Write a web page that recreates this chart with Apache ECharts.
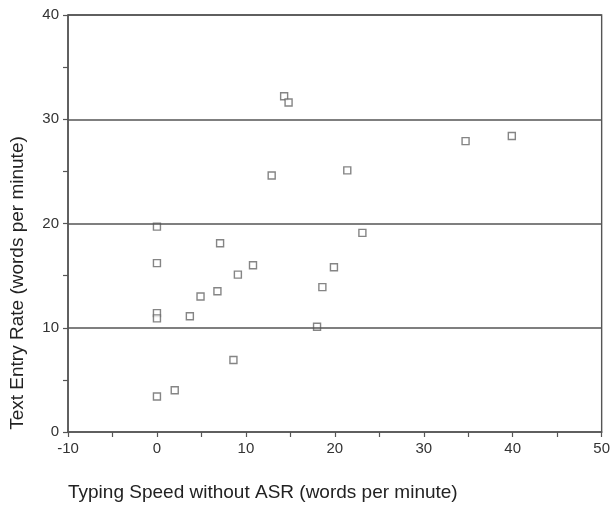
<!DOCTYPE html>
<html><head><meta charset="utf-8">
<script src="https://cdn.jsdelivr.net/npm/echarts@6/dist/echarts.min.js"></script>
<style>html,body{margin:0;padding:0;background:#fff}#c{width:613px;height:508px}</style>
</head><body><div id="c"></div>
<script>
const typingSpeed = [0, 0, 0, 0, 0, 2.0, 3.7, 4.9, 6.8, 7.1, 8.6, 9.1, 10.8, 18.0, 18.6, 19.9, 23.1, 12.9, 21.4, 14.3, 14.8, 34.7, 39.9];
const entryRate   = [19.7, 16.2, 11.4, 10.9, 3.4, 4.0, 11.1, 13.0, 13.5, 18.1, 6.9, 15.1, 16.0, 10.1, 13.9, 15.8, 19.1, 24.6, 25.1, 32.2, 31.6, 27.9, 28.4];
const xTickLabels = [-10, 0, 10, 20, 30, 40, 50];
const yTickLabels = [0, 10, 20, 30, 40];
const xTitle = 'Typing Speed without ASR (words per minute)';
const yTitle = 'Text Entry Rate (words per minute)';

const pts = typingSpeed.map((x, i) => [x, entryRate[i]]);
const font = 'Liberation Sans, Arial, sans-serif';
const chart = echarts.init(document.getElementById('c'));
chart.setOption({
  animation: false,
  textStyle: { fontFamily: font },
  grid: { left: 68, right: 8, top: 15, bottom: 76, show: true, borderColor: '#555', borderWidth: 1.4 },
  xAxis: {
    type: 'value', min: -10, max: 50, interval: 5,
    axisLine: { onZero: false, lineStyle: { color: '#555', width: 1.5 } },
    axisTick: { show: true, length: 5, lineStyle: { color: '#555', width: 1.2 } },
    axisLabel: { color: '#333', fontSize: 15, margin: 9,
      formatter: v => xTickLabels.includes(v) ? String(v) : '' },
    splitLine: { show: false }
  },
  yAxis: {
    type: 'value', min: 0, max: 40, interval: 5,
    axisLine: { show: true, onZero: false, lineStyle: { color: '#555', width: 1.5 } },
    axisTick: { show: true, length: 5, lineStyle: { color: '#555', width: 1.2 } },
    axisLabel: { color: '#333', fontSize: 15, margin: 9,
      formatter: v => yTickLabels.includes(v) ? String(v) : '' },
    splitLine: { show: false }
  },
  series: [
    { type: 'scatter', data: pts, symbol: 'rect', symbolSize: 7,
      itemStyle: { color: '#fff', borderColor: '#666', borderWidth: 1.4 },
      markLine: { silent: true, symbol: 'none', label: { show: false },
        lineStyle: { color: '#555', width: 1.5, type: 'solid' },
        data: yTickLabels.filter(v => v > 0).map(v => ({ yAxis: v })) } }
  ],
  graphic: [
    { type: 'text', left: 68, top: 483, style: { text: xTitle, font: '19px ' + font, fill: '#222' } },
    { type: 'text', x: 8, y: 283, rotation: Math.PI / 2, style: { text: yTitle, font: '19px ' + font, fill: '#222', align: 'center', verticalAlign: 'top' } }
  ]
});
</script></body></html>
